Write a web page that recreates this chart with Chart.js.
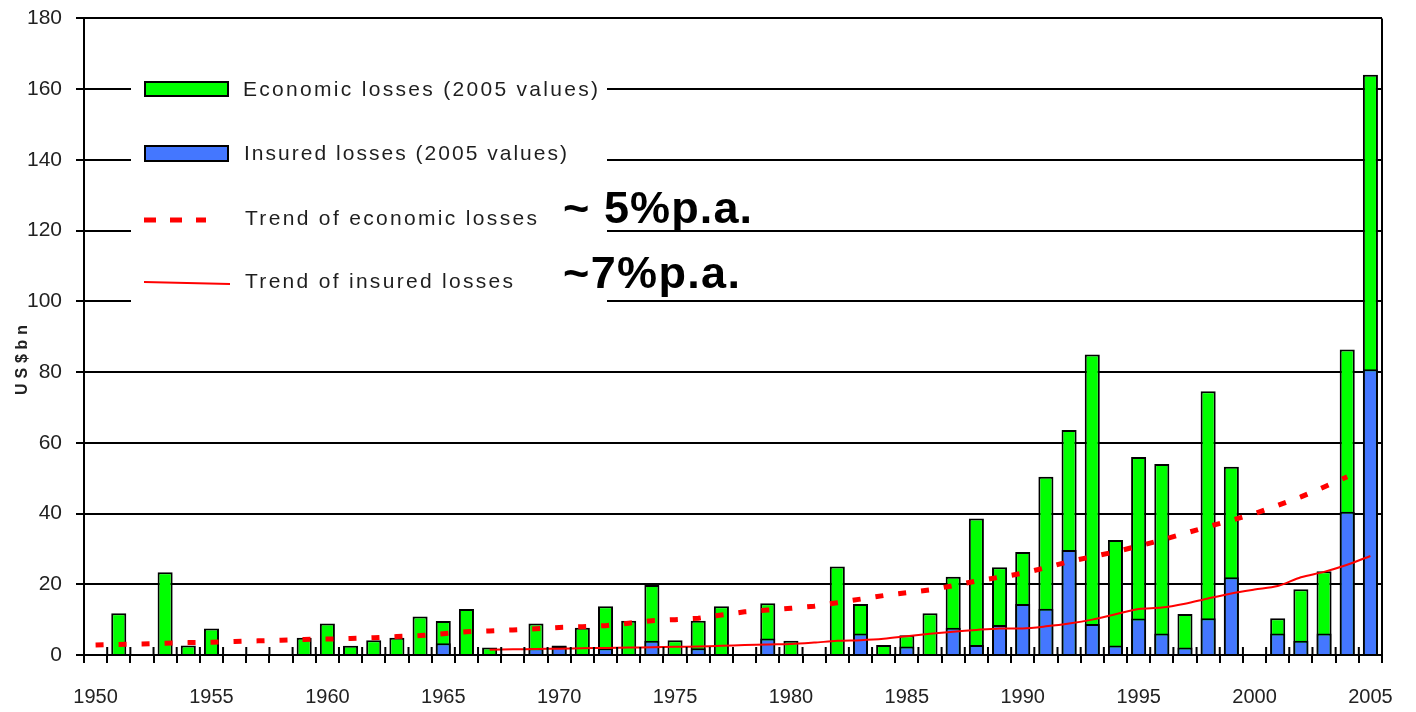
<!DOCTYPE html>
<html>
<head>
<meta charset="utf-8">
<script src="https://cdn.jsdelivr.net/npm/chart.js@4"></script>
<style>
  html, body { margin: 0; padding: 0; background: #fff; }
</style>
</head>
<body>
<canvas id="chart" width="1416" height="712"></canvas>
<script>
// years on the x axis
const years = [1950, 1951, 1952, 1953, 1954, 1955, 1956, 1957, 1958, 1959,
  1960, 1961, 1962, 1963, 1964, 1965, 1966, 1967, 1968, 1969,
  1970, 1971, 1972, 1973, 1974, 1975, 1976, 1977, 1978, 1979,
  1980, 1981, 1982, 1983, 1984, 1985, 1986, 1987, 1988, 1989,
  1990, 1991, 1992, 1993, 1994, 1995, 1996, 1997, 1998, 1999,
  2000, 2001, 2002, 2003, 2004, 2005];

// economic losses, US$bn (2005 values)
const economic = [null, 11.8, null, 23.4, 2.7, 7.5, null, null, null, 4.9,
  8.9, 2.6, 4.2, 4.9, 10.9, 9.6, 13.0, 2.1, null, 8.9,
  2.7, 7.7, 13.8, 9.7, 19.8, 4.2, 9.7, 13.8, null, 14.6,
  4.0, null, 25.0, 14.4, 2.8, 5.6, 11.8, 22.1, 38.6, 24.8,
  29.1, 50.4, 63.6, 85.0, 32.5, 56.0, 54.0, 11.6, 74.6, 53.2,
  null, 10.4, 18.6, 23.7, 86.4, 164.1];

// insured losses, US$bn (2005 values)
const insured = [null, null, null, null, null, null, null, null, null, null,
  null, null, null, null, null, 3.3, null, null, null, 1.9,
  2.5, null, 1.9, null, 4.0, null, 1.9, null, null, 4.7,
  null, null, null, 6.1, null, 2.4, null, 7.7, 2.8, 8.5,
  14.4, 13.1, 29.7, 8.8, 2.7, 10.3, 6.1, 2.1, 10.4, 22.0,
  null, 6.1, 4.0, 6.1, 40.5, 80.8];

// trend of economic losses (dashed)
const econTrend = [2.8, 3.0, 3.1, 3.3, 3.5, 3.6, 3.8, 4.0, 4.2, 4.4,
  4.5, 4.7, 4.9, 5.2, 5.5, 6.0, 6.6, 6.8, 7.1, 7.4,
  7.8, 8.0, 8.3, 9.0, 9.7, 10.0, 10.4, 11.3, 12.2, 12.7,
  13.2, 13.8, 14.8, 15.8, 16.8, 17.6, 18.4, 19.6, 20.9, 22.0,
  23.1, 24.7, 26.4, 27.8, 29.2, 30.8, 32.5, 34.4, 36.3, 38.1,
  40.0, 42.3, 44.7, 47.5, 50.4, null];

// trend of insured losses (solid)
const insTrend = [null, null, null, null, null, null, null, null, null, null,
  null, null, null, null, null, null, null, 1.5, 1.6, 1.7,
  1.8, 1.9, 2.0, 2.1, 2.2, 2.3, 2.4, 2.6, 2.8, 3.0,
  3.1, 3.5, 4.0, 4.2, 4.6, 5.3, 6.0, 6.6, 7.1, 7.5,
  7.5, 8.1, 8.9, 10.0, 11.5, 13.0, 13.4, 14.5, 16.0, 17.4,
  18.5, 19.5, 22.0, 23.5, 25.5, 28.0];

const legendItems = ['Economic losses (2005 values)', 'Insured losses (2005 values)',
  'Trend of economic losses', 'Trend of insured losses'];
const rateLabels = ['~ 5%p.a.', '~7%p.a.'];

const FONT = '"Liberation Sans", Arial, sans-serif';
const GREEN = '#00ff00';
const BLUE = '#4477ff';
const RED = '#ff0000';

function spacedText(ctx, text, x, y, width) {
  ctx.letterSpacing = '0px';
  const w = ctx.measureText(text).width;
  const sp = (width - w) / (text.length - 1);
  ctx.letterSpacing = sp + 'px';
  ctx.fillText(text, x, y);
  ctx.letterSpacing = '0px';
}

// legend box, rate notes, axis title, tick marks and right frame
const decor = {
  id: 'decor',
  afterDraw(chart) {
    const ctx = chart.ctx;
    const area = chart.chartArea;
    const xs = chart.scales.x;
    ctx.save();

    // x ticks also reach up into the plot
    const half = (xs.getPixelForValue(1) - xs.getPixelForValue(0)) / 2;
    ctx.strokeStyle = '#000';
    ctx.lineWidth = 2;
    for (let i = 0; i <= years.length; i++) {
      const px = xs.getPixelForValue(0) - half + i * half * 2;
      ctx.beginPath();
      ctx.moveTo(px, area.bottom - 8);
      ctx.lineTo(px, area.bottom);
      ctx.stroke();
    }
    // right frame
    ctx.beginPath();
    ctx.moveTo(area.right, area.top);
    ctx.lineTo(area.right, area.bottom);
    ctx.stroke();

    // legend
    ctx.fillStyle = '#fff';
    ctx.fillRect(131, 40, 476, 280);

    ctx.lineWidth = 2;
    ctx.strokeStyle = '#000';
    ctx.fillStyle = GREEN;
    ctx.fillRect(145, 82, 83, 14);
    ctx.strokeRect(145, 82, 83, 14);
    ctx.fillStyle = BLUE;
    ctx.fillRect(145, 146, 83, 15);
    ctx.strokeRect(145, 146, 83, 15);

    ctx.strokeStyle = RED;
    ctx.lineWidth = 5;
    ctx.setLineDash([12, 14]);
    ctx.beginPath();
    ctx.moveTo(144, 220);
    ctx.lineTo(206, 220);
    ctx.stroke();
    ctx.setLineDash([]);
    ctx.lineWidth = 2;
    ctx.beginPath();
    ctx.moveTo(144, 282);
    ctx.lineTo(230, 284);
    ctx.stroke();

    ctx.fillStyle = '#1e1e1e';
    ctx.font = '21px ' + FONT;
    ctx.textBaseline = 'middle';
    ctx.textAlign = 'left';
    spacedText(ctx, legendItems[0], 243, 90, 355);
    spacedText(ctx, legendItems[1], 244, 154, 323);
    spacedText(ctx, legendItems[2], 245, 219, 292);
    spacedText(ctx, legendItems[3], 245, 282, 268);

    // growth rates
    ctx.fillStyle = '#000';
    ctx.font = 'bold 45px ' + FONT;
    ctx.textBaseline = 'alphabetic';
    spacedText(ctx, rateLabels[0], 563, 223, 189);
    spacedText(ctx, rateLabels[1], 563, 288, 177);

    // y title
    ctx.translate(23, 360);
    ctx.rotate(-Math.PI / 2);
    ctx.fillStyle = '#222';
    ctx.font = 'bold 16px ' + FONT;
    ctx.textBaseline = 'middle';
    spacedText(ctx, 'US$bn', -35, 0, 70);
    ctx.restore();
  }
};

new Chart(document.getElementById('chart'), {
  type: 'bar',
  data: {
    labels: years,
    datasets: [
      {
        type: 'line',
        label: legendItems[2],
        data: econTrend,
        borderColor: RED,
        borderWidth: 5,
        borderDash: [8, 15],
        pointRadius: 0,
        fill: false,
        tension: 0
      },
      {
        type: 'line',
        label: legendItems[3],
        data: insTrend,
        borderColor: RED,
        borderWidth: 2,
        pointRadius: 0,
        fill: false,
        tension: 0.3
      },
      {
        label: legendItems[1],
        data: insured,
        backgroundColor: BLUE,
        borderColor: '#000',
        borderWidth: 2,
        categoryPercentage: 0.65,
        barPercentage: 1
      },
      {
        label: legendItems[0],
        data: economic,
        backgroundColor: GREEN,
        borderColor: '#000',
        borderWidth: 2,
        categoryPercentage: 0.65,
        barPercentage: 1
      }
    ]
  },
  options: {
    responsive: false,
    animation: false,
    devicePixelRatio: 1,
    layout: { padding: { top: 0, right: 34, left: 0, bottom: 0 } },
    plugins: {
      legend: { display: false },
      tooltip: { enabled: false }
    },
    scales: {
      x: {
        stacked: true,
        offset: true,
        grid: { offset: true, drawOnChartArea: false, color: '#000', lineWidth: 2, tickLength: 8 },
        border: { display: true, color: '#000', width: 2 },
        ticks: {
          autoSkip: false,
          maxRotation: 0,
          minRotation: 0,
          padding: 22,
          color: '#222',
          font: { family: FONT, size: 20 },
          callback: (v, i) => (years[i] % 5 === 0 ? String(years[i]) : '')
        },
        afterFit: (s) => { s.height = 57; }
      },
      y: {
        stacked: false,
        min: 0,
        max: 180,
        ticks: { stepSize: 20, padding: 14, color: '#222', font: { family: FONT, size: 21, lineHeight: 0.42 } },
        grid: { color: '#000', lineWidth: 2, tickLength: 8 },
        border: { display: true, color: '#000', width: 2 },
        afterFit: (s) => { s.width = 84; }
      }
    }
  },
  plugins: [decor]
});
</script>
</body>
</html>
